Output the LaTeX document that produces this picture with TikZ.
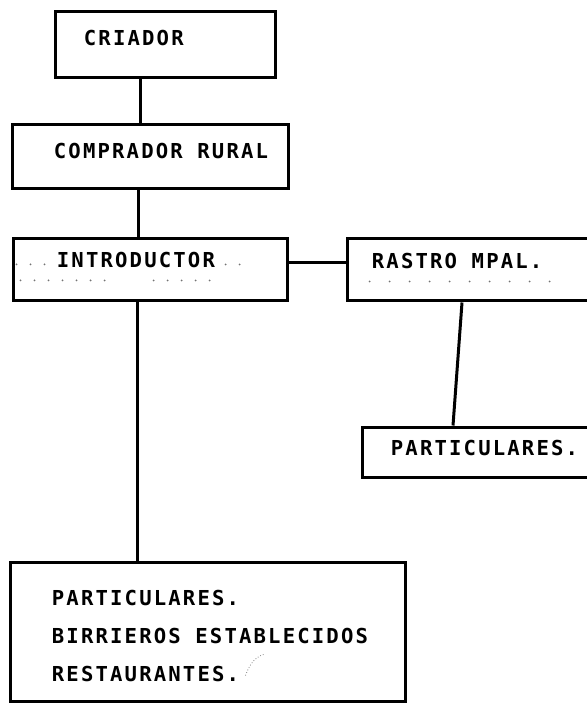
\documentclass[tikz,border=0pt]{standalone}
\usepackage{fontspec}
\newfontfamily\typewriter[LetterSpace=10.5]{DejaVu Sans Mono}
\usetikzlibrary{positioning}
\tikzstyle{stage} = [draw, line width=1.5pt, inner sep=0pt, rectangle]
\tikzstyle{typed} = [anchor=base west, inner sep=0pt, font=\typewriter\bfseries\fontsize{10.3pt}{12pt}\selectfont]
\tikzstyle{link} = [draw, line width=1.5pt]
\tikzstyle{leader} = [draw, line width=1pt, line cap=round, dash pattern=on 0pt off 7pt, color=black!55]
\tikzstyle{scribble} = [draw, line width=0.4pt, densely dotted, color=black!50]
\newcommand{\stage}[3]{node (b#1) [stage, minimum width=#2, minimum height=#3] {}}
\newcommand{\typed}[2]{node (t#1) [typed] {#2}}
\begin{document}
\begin{tikzpicture}[x=0.5pt,y=-0.5pt]
\useasboundingbox (0,0) rectangle (586,704);
% first column
\path (165,45) \stage{1}{110pt}{33pt};
\path (b1.north west)+(30,35) \typed{1}{CRIADOR};
\path (150,157) \stage{2}{138pt}{32pt};
\path (b2.north west)+(43,35) \typed{2}{COMPRADOR RURAL};
\path [link] ([xshift=-12.5pt]b1.south) -- ([xshift=-12.5pt]b1.south |- b2.north);
\path (150,270) \stage{3}{137pt}{31pt};
\path (b3.north west)+(45,30) \typed{3}{INTRODUCTOR};
\path [link] ([xshift=-6pt]b2.south) -- ([xshift=-6pt]b2.south |- b3.north);
\path [leader] (b3.north west) +(5,27) -- +(33,27) +(214,27) -- +(242,27)
  +(9,43) -- +(107,43) +(142,43) -- +(212,43);
% right branch
\path (469.5,270) \stage{4}{122.5pt}{31pt};
\path (b4.north west)+(26,31) \typed{4}{RASTRO MPAL.};
\path [link] ([yshift=3.75pt]b3.east) -- ([yshift=3.75pt]b3.east -| b4.west);
\path [leader, dash pattern=on 0pt off 10pt] (b4.north west) +(24,44) -- +(212,44);
\path (477,452) \stage{5}{115pt}{25pt};
\path (b5.north west)+(30,30) \typed{5}{PARTICULARES.};
\path [link] ([xshift=-3.75pt]b4.south) -- ([xshift=-12pt]b5.north);
% bottom box
\path (207.5,631.5) \stage{6}{197.5pt}{69.5pt};
\path (b6.north west)+(43,45) \typed{6}{PARTICULARES.};
\path (b6.north west)+(43,83) \typed{7}{BIRRIEROS ESTABLECIDOS};
\path (b6.north west)+(43,121) \typed{8}{RESTAURANTES.};
\path [link] ([xshift=-6.5pt]b3.south) -- ([xshift=-6.5pt]b3.south |- b6.north);
\path [scribble] ([shift={(237,115)}]b6.north west) .. controls ([shift={(241,104)}]b6.north west)
  and ([shift={(246,97)}]b6.north west) .. ([shift={(255,94)}]b6.north west);
\end{tikzpicture}
\end{document}
